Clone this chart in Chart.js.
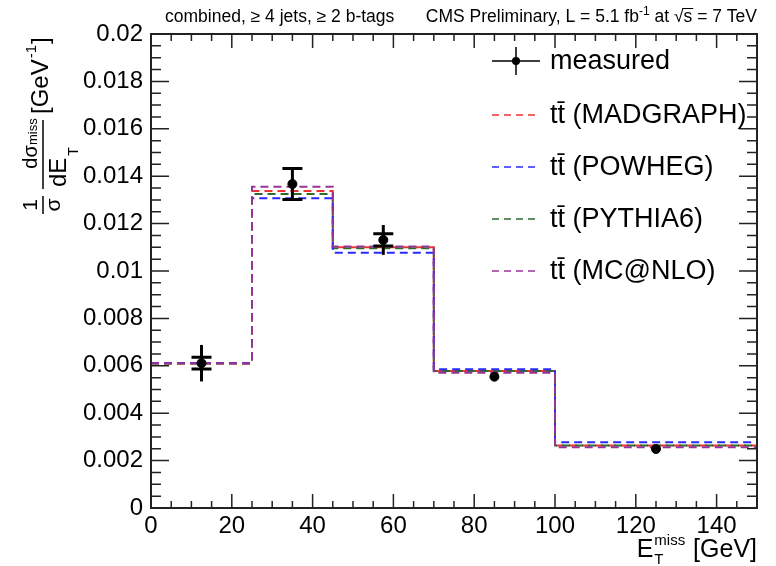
<!DOCTYPE html>
<html><head><meta charset="utf-8">
<script src="https://cdn.jsdelivr.net/npm/chart.js@4/dist/chart.umd.min.js"></script>
<style>html,body{margin:0;padding:0;background:#fff;}canvas{display:block;}</style>
</head><body>
<canvas id="c" width="776" height="566"></canvas>
<script>
// ---- data ----
const binEdges = [0, 25, 45, 70, 100, 150];
const madgraph = [0.00610, 0.01338, 0.01100, 0.00578, 0.00264];
const powheg   = [0.00612, 0.01307, 0.01077, 0.00585, 0.00277];
const pythia6  = [0.00610, 0.01325, 0.01096, 0.00578, 0.00264];
const mcatnlo  = [0.00611, 0.01356, 0.01103, 0.00571, 0.00256];
const measX    = [12.5, 35, 57.5, 85, 125];
const measured = [0.00611, 0.01367, 0.01131, 0.00554, 0.00249];
const statErr  = [0.00025, 0.00065, 0.00026, 0.00012, 0.00008];
const totErr   = [0.00077, 0.00065, 0.00063, 0.00012, 0.00008];
const xTicks = [0, 20, 40, 60, 80, 100, 120, 140];
const xTickLabels = ['0','20','40','60','80','100','120','140'];
const yTicks = [0,0.002,0.004,0.006,0.008,0.01,0.012,0.014,0.016,0.018,0.02];
const yTickLabels = ['0','0.002','0.004','0.006','0.008','0.01','0.012','0.014','0.016','0.018','0.02'];
const legendLabels = ['measured','tt\u0304 (MADGRAPH)','tt\u0304 (POWHEG)','tt\u0304 (PYTHIA6)','tt\u0304 (MC@NLO)'];
const topLeftText = 'combined, \u2265 4 jets, \u2265 2 b-tags';

const FONT = '"Liberation Sans", Arial, sans-serif';
const colors = ['#000000', '#ee3333', '#2a2aff', '#2e6b2e', '#993399'];

function histPoints(vals){
  const pts = [];
  vals.forEach((v,i)=>{ pts.push({x: binEdges[i], y: v}); pts.push({x: binEdges[i+1], y: v}); });
  return pts;
}
function histDS(label, vals, color, order){
  return {type:'line', label, data: histPoints(vals), borderColor: color, borderWidth: 2,
    borderDash: [8,5], pointRadius: 0, fill: false, tension: 0, order};
}

const decor = {
  id: 'decor',
  beforeDatasetDraw(chart, args){
    if (args.index !== 0) return;
    const {ctx, scales:{x, y}} = chart;
    ctx.save();
    ctx.strokeStyle = '#000'; ctx.lineWidth = 3; ctx.lineCap = 'butt';
    measX.forEach((mx,i)=>{
      const px = x.getPixelForValue(mx);
      const yt = y.getPixelForValue(measured[i] + totErr[i]);
      const yb = y.getPixelForValue(measured[i] - totErr[i]);
      ctx.beginPath(); ctx.moveTo(px, yt); ctx.lineTo(px, yb); ctx.stroke();
      const st = y.getPixelForValue(measured[i] + statErr[i]);
      const sb = y.getPixelForValue(measured[i] - statErr[i]);
      if (sb - st > 10) {
        ctx.beginPath();
        ctx.moveTo(px - 10, st); ctx.lineTo(px + 10, st);
        ctx.moveTo(px - 10, sb); ctx.lineTo(px + 10, sb);
        ctx.stroke();
      }
    });
    ctx.restore();
  },
  afterDraw(chart){
    const {ctx, chartArea:a, scales:{x, y}} = chart;
    ctx.save();
    // frame
    ctx.strokeStyle = '#222'; ctx.lineWidth = 2;
    ctx.strokeRect(a.left, a.top, a.right - a.left, a.bottom - a.top);
    // x ticks (bottom & top)
    ctx.lineWidth = 1.5; ctx.strokeStyle = '#222';
    ctx.beginPath();
    for (let v = 0; v <= 150; v += 5) {
      const px = x.getPixelForValue(v);
      const len = (v % 20 === 0) ? 14 : 7;
      ctx.moveTo(px, a.bottom); ctx.lineTo(px, a.bottom - len);
      ctx.moveTo(px, a.top); ctx.lineTo(px, a.top + len);
    }
    // y ticks (left & right)
    for (let k = 0; k <= 40; k++) {
      const v = k * 0.0005;
      const py = y.getPixelForValue(v);
      const len = (k % 4 === 0) ? 18 : 10;
      ctx.moveTo(a.left, py); ctx.lineTo(a.left + len, py);
      ctx.moveTo(a.right, py); ctx.lineTo(a.right - len, py);
    }
    ctx.stroke();

    // top texts
    ctx.fillStyle = '#000';
    ctx.textBaseline = 'alphabetic';
    ctx.font = '17.5px ' + FONT;
    ctx.textAlign = 'left';
    ctx.fillText(topLeftText, 165, 22);
    // CMS text, right aligned at a.right
    const parts = [
      {t:'CMS Preliminary, L = 5.1 fb', f:17.5, dy:0},
      {t:'-1', f:12, dy:-7},
      {t:' at ', f:17.5, dy:0},
      {t:'\u221As', f:17.5, dy:0, over:true},
      {t:' = 7 TeV', f:17.5, dy:0}
    ];
    let w = 0;
    parts.forEach(p=>{ ctx.font = p.f + 'px ' + FONT; p.w = ctx.measureText(p.t).width; w += p.w; });
    let cx = a.right - w;
    parts.forEach(p=>{
      ctx.font = p.f + 'px ' + FONT;
      ctx.fillText(p.t, cx, 22 + p.dy);
      if (p.over) {
        const sw = ctx.measureText('\u221A').width;
        ctx.beginPath(); ctx.lineWidth = 1; ctx.strokeStyle = '#000';
        ctx.moveTo(cx + sw - 1, 8.5); ctx.lineTo(cx + p.w + 1, 8.5); ctx.stroke();
      }
      cx += p.w;
    });

    // legend
    const rowsY = [61, 115, 167, 219, 271];
    legendLabels.forEach((lab, i)=>{
      const yy = rowsY[i];
      ctx.save();
      if (i === 0) {
        ctx.strokeStyle = '#000'; ctx.lineWidth = 1.5;
        ctx.beginPath(); ctx.moveTo(492, yy); ctx.lineTo(540, yy);
        ctx.moveTo(516, yy - 14); ctx.lineTo(516, yy + 14); ctx.stroke();
        ctx.fillStyle = '#000'; ctx.beginPath(); ctx.arc(516, yy, 4, 0, Math.PI*2); ctx.fill();
      } else {
        ctx.strokeStyle = colors[i]; ctx.lineWidth = 1.5; ctx.setLineDash([7,5]);
        ctx.beginPath(); ctx.moveTo(492, yy); ctx.lineTo(540, yy); ctx.stroke();
      }
      ctx.restore();
      ctx.fillStyle = '#000';
      ctx.font = '27px ' + FONT;
      ctx.textBaseline = 'middle';
      ctx.textAlign = 'left';
      ctx.fillText(lab, 550, yy + 1);
    });

    // y axis title (rotated)
    ctx.save();
    ctx.translate(43, 215);
    ctx.rotate(-Math.PI/2);
    ctx.fillStyle = '#000'; ctx.strokeStyle = '#000'; ctx.lineWidth = 1.5;
    ctx.textBaseline = 'alphabetic';
    // 1/sigma
    ctx.beginPath(); ctx.moveTo(1, 0); ctx.lineTo(19, 0); ctx.stroke();
    ctx.font = '21px ' + FONT; ctx.textAlign = 'center';
    ctx.fillText('1', 10, -6);
    ctx.fillText('\u03C3', 10, 17);
    // d sigma / dE
    ctx.beginPath(); ctx.moveTo(26, 0); ctx.lineTo(95, 0); ctx.stroke();
    ctx.font = '20px ' + FONT;
    ctx.fillText('d\u03C3', 58, -6);
    ctx.textAlign = 'left';
    ctx.font = '24px ' + FONT;
    ctx.fillText('dE', 28, 23);
    const dEw = ctx.measureText('dE').width;
    ctx.font = '14px ' + FONT;
    ctx.fillText('T', 28 + dEw + 2, 35);
    ctx.font = '13px ' + FONT;
    ctx.fillText('miss', 70, -6);
    // [GeV^-1]
    ctx.font = '24px ' + FONT;
    ctx.fillText('[GeV', 101, 5);
    let gx = 101 + ctx.measureText('[GeV').width;
    ctx.font = '15px ' + FONT;
    ctx.fillText('-1', gx + 1, -7);
    gx += ctx.measureText('-1').width + 2;
    ctx.font = '24px ' + FONT;
    ctx.fillText(']', gx, 5);
    ctx.restore();

    // x axis title
    ctx.save();
    ctx.fillStyle = '#000'; ctx.textBaseline = 'alphabetic'; ctx.textAlign = 'left';
    ctx.font = '25px ' + FONT;
    const gev = ' [GeV]';
    const gw = ctx.measureText(gev).width;
    ctx.font = '15px ' + FONT;
    const mw = ctx.measureText('miss').width;
    ctx.font = '25px ' + FONT;
    const ew = ctx.measureText('E').width;
    let ex = a.right - gw - mw - ew - 2;
    ctx.fillText('E', ex, 557);
    ctx.font = '15px ' + FONT;
    ctx.fillText('miss', ex + ew + 1, 545);
    ctx.fillText('T', ex + ew + 1, 564);
    ctx.font = '25px ' + FONT;
    ctx.fillText(gev, a.right - gw, 557);
    ctx.restore();

    ctx.restore();
  }
};

new Chart(document.getElementById('c'), {
  data: {
    datasets: [
      {type:'scatter', label: legendLabels[0], data: measX.map((v,i)=>({x:v, y:measured[i]})),
        pointRadius: 4.5, pointBackgroundColor:'#000', pointBorderColor:'#000', showLine:false, order: 0},
      histDS(legendLabels[1], madgraph, colors[1], 4),
      histDS(legendLabels[2], powheg, colors[2], 2),
      histDS(legendLabels[3], pythia6, colors[3], 3),
      histDS(legendLabels[4], mcatnlo, colors[4], 1)
    ]
  },
  options: {
    responsive: false,
    animation: false,
    events: [],
    layout: {padding: {left: 0, top: 34, right: 19, bottom: 0}},
    plugins: {legend: {display:false}, tooltip: {enabled:false}, title:{display:false}},
    scales: {
      x: {
        type: 'linear', min: 0, max: 150,
        grid: {display: false, drawTicks: false},
        border: {display: false},
        afterBuildTicks: s => { s.ticks = xTicks.map(v=>({value:v})); },
        afterFit: s => { s.height = 58; },
        ticks: {
          padding: 4, color: '#000', maxRotation: 0, autoSkip: false,
          font: {family: FONT, size: 24},
          callback: (v) => { const i = xTicks.indexOf(v); return i >= 0 ? xTickLabels[i] : ''; }
        }
      },
      y: {
        type: 'linear', min: 0, max: 0.02,
        grid: {display: false, drawTicks: false},
        border: {display: false},
        afterBuildTicks: s => { s.ticks = yTicks.map(v=>({value:v})); },
        afterFit: s => { s.width = 151; },
        ticks: {
          padding: 8, color: '#000', autoSkip: false,
          font: {family: FONT, size: 24},
          callback: (v) => { const i = yTicks.findIndex(t => Math.abs(t - v) < 1e-9); return i >= 0 ? yTickLabels[i] : ''; }
        }
      }
    }
  },
  plugins: [decor]
});
</script>
</body></html>
